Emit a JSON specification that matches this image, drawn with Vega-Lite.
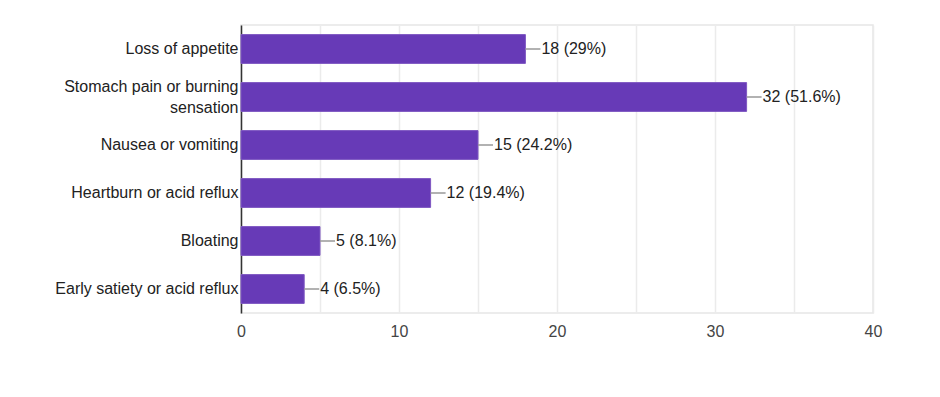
{
  "$schema": "https://vega.github.io/schema/vega-lite/v6.json",
  "width": 632,
  "height": 288,
  "autosize": {"type": "none"},
  "padding": {"left": 241, "top": 25, "right": 67, "bottom": 84},
  "background": "white",
  "config": {
    "font": "Liberation Sans",
    "view": {"stroke": "#e6e6e6", "strokeWidth": 1.5}
  },
  "data": {
    "values": [
      {"symptom": "Loss of appetite", "count": 18, "label": "18 (29%)"},
      {"symptom": "Stomach pain or burning sensation", "count": 32, "label": "32 (51.6%)"},
      {"symptom": "Nausea or vomiting", "count": 15, "label": "15 (24.2%)"},
      {"symptom": "Heartburn or acid reflux", "count": 12, "label": "12 (19.4%)"},
      {"symptom": "Bloating", "count": 5, "label": "5 (8.1%)"},
      {"symptom": "Early satiety or acid reflux", "count": 4, "label": "4 (6.5%)"}
    ]
  },
  "encoding": {
    "y": {
      "field": "symptom",
      "type": "nominal",
      "sort": null,
      "scale": {"paddingInner": 0.4, "paddingOuter": 0.2},
      "axis": {
        "title": null,
        "ticks": false,
        "domainColor": "#333333",
        "domainWidth": 1.5,
        "labelFontSize": 16,
        "labelColor": "#222222",
        "labelPadding": 3,
        "labelLimit": 300,
        "labelLineHeight": 21,
        "labelOffset": {"condition": {"test": "datum.value == 'Stomach pain or burning sensation'", "value": -10}, "value": 0},
        "labelExpr": "datum.label == 'Stomach pain or burning sensation' ? ['Stomach pain or burning', 'sensation'] : datum.label"
      }
    }
  },
  "layer": [
    {
      "mark": {"type": "bar", "color": "#673ab7", "stroke": "#7e57c2", "strokeWidth": 1},
      "encoding": {
        "x": {
          "field": "count",
          "type": "quantitative",
          "scale": {"domain": [0, 40], "nice": false},
          "axis": {
            "title": null,
            "values": [0, 5, 10, 15, 20, 25, 30, 35, 40],
            "labelExpr": "datum.value % 10 == 0 ? datum.label : ''",
            "labelFlush": false,
            "ticks": false,
            "domain": false,
            "grid": true,
            "gridColor": "#ebebeb",
            "gridWidth": 1.5,
            "labelFontSize": 16,
            "labelColor": "#444444",
            "labelPadding": 10
          }
        }
      }
    },
    {
      "mark": {"type": "rule", "color": "#999999", "strokeWidth": 1.5, "x2Offset": 15},
      "encoding": {
        "x": {"field": "count", "type": "quantitative"},
        "x2": {"field": "count"}
      }
    },
    {
      "mark": {"type": "text", "align": "left", "baseline": "middle", "dx": 16, "fontSize": 16, "color": "#222222"},
      "encoding": {
        "x": {"field": "count", "type": "quantitative"},
        "text": {"field": "label"}
      }
    }
  ]
}
